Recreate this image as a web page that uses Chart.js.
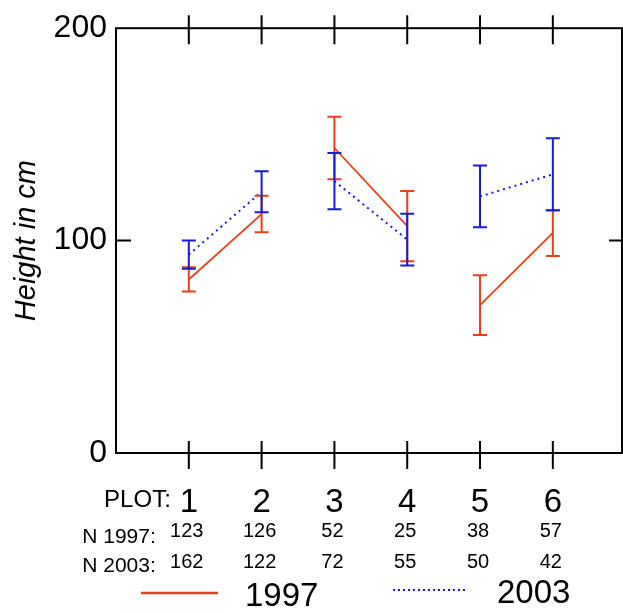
<!DOCTYPE html>
<html>
<head>
<meta charset="utf-8">
<script src="https://cdn.jsdelivr.net/npm/chart.js@4.4.1/dist/chart.umd.min.js"></script>
<style>
html, body { margin: 0; padding: 0; background: #fff; }
</style>
</head>
<body>
<canvas id="height-chart" width="623" height="613"></canvas>
<script>
var plots = [1, 2, 3, 4, 5, 6];
var mean1997 = [81.7, 112.5, 143.6, 106.8, 69.6, 103.6];
var err1997 = [5.7, 8.6, 14.7, 16.5, 14.1, 10.8];
var mean2003 = [93.4, 123, 128, 100.5, 120.8, 131.2];
var err2003 = [6.6, 9.6, 13.2, 12.2, 14.5, 17];
var n1997 = [123, 126, 52, 25, 38, 57];
var n2003 = [162, 122, 72, 55, 50, 42];
var yTicks = [0, 100, 200];

var red = '#e8401a';
var blue = '#1a1ad8';
var font = "'Liberation Sans', Arial, sans-serif";

function points(means){
    return plots.map(function(p, i){ return {x: p, y: means[i]}; });
}

// only 1-2, 3-4, 5-6 are joined
function pairColor(color){
    return function(c){ return c.p0DataIndex % 2 == 1 ? 'transparent' : color; };
}

function drawBars(chart, means, errs, color){
    var ctx = chart.ctx;
    var xs = chart.scales.x, ys = chart.scales.y;
    ctx.save();
    ctx.strokeStyle = color;
    ctx.lineWidth = 2;
    plots.forEach(function(p, i){
        var x = xs.getPixelForValue(p);
        var hi = ys.getPixelForValue(means[i] + errs[i]);
        var lo = ys.getPixelForValue(means[i] - errs[i]);
        ctx.beginPath();
        ctx.moveTo(x, hi); ctx.lineTo(x, lo);
        ctx.moveTo(x - 7, hi); ctx.lineTo(x + 7, hi);
        ctx.moveTo(x - 7, lo); ctx.lineTo(x + 7, lo);
        ctx.stroke();
    });
    ctx.restore();
}

var extras = {
    id: 'extras',
    afterDatasetsDraw: function(chart){
        drawBars(chart, mean1997, err1997, red);
        drawBars(chart, mean2003, err2003, blue);
    },
    afterDraw: function(chart){
        var ctx = chart.ctx;
        var a = chart.chartArea;
        var xs = chart.scales.x, ys = chart.scales.y;
        ctx.save();
        ctx.strokeStyle = '#000';
        ctx.lineWidth = 2;
        ctx.strokeRect(a.left, a.top, a.right - a.left, a.bottom - a.top);
        ctx.beginPath();
        plots.forEach(function(p){
            var x = xs.getPixelForValue(p);
            ctx.moveTo(x, a.bottom - 12); ctx.lineTo(x, a.bottom + 16);
            ctx.moveTo(x, a.top - 13); ctx.lineTo(x, a.top + 16);
        });
        var y100 = ys.getPixelForValue(100);
        ctx.moveTo(a.left, y100); ctx.lineTo(a.left + 15, y100);
        ctx.moveTo(a.right - 13, y100); ctx.lineTo(a.right, y100);
        ctx.stroke();

        // sample sizes under the axis
        var x1 = xs.getPixelForValue(plots[0]);
        ctx.fillStyle = '#000';
        ctx.textAlign = 'right';
        ctx.textBaseline = 'alphabetic';
        ctx.font = '24px ' + font;
        ctx.fillText('PLOT:', x1 - 18, a.bottom + 54);
        ctx.font = '21px ' + font;
        ctx.fillText('N 1997:', x1 - 33, a.bottom + 90);
        ctx.fillText('N 2003:', x1 - 33, a.bottom + 119);
        ctx.textAlign = 'center';
        ctx.font = '20px ' + font;
        plots.forEach(function(p, i){
            var x = xs.getPixelForValue(p) - 2;
            ctx.fillText(n1997[i], x, a.bottom + 84);
            ctx.fillText(n2003[i], x, a.bottom + 115);
        });

        // legend
        ctx.strokeStyle = red;
        ctx.lineWidth = 2.5;
        ctx.beginPath(); ctx.moveTo(141, 593); ctx.lineTo(218, 593); ctx.stroke();
        ctx.strokeStyle = blue;
        ctx.lineWidth = 2;
        ctx.setLineDash([2, 3]);
        ctx.beginPath(); ctx.moveTo(393, 590); ctx.lineTo(468, 590); ctx.stroke();
        ctx.setLineDash([]);
        ctx.textAlign = 'left';
        ctx.font = '33px ' + font;
        ctx.fillText('1997', 245, 606);
        ctx.fillText('2003', 497, 603);
        ctx.restore();
    }
};

var myChart = new Chart(document.getElementById('height-chart'), {
    type: 'line',
    data: {
        datasets: [
            {
                label: '1997',
                data: points(mean1997),
                borderColor: red,
                borderWidth: 1.8,
                pointRadius: 0,
                segment: { borderColor: pairColor(red) }
            },
            {
                label: '2003',
                data: points(mean2003),
                borderColor: blue,
                borderWidth: 2,
                borderDash: [2, 4],
                pointRadius: 0,
                segment: { borderColor: pairColor(blue) }
            }
        ]
    },
    options: {
        responsive: false,
        devicePixelRatio: 1,
        animation: false,
        layout: { padding: { top: 27, right: 1, left: 0, bottom: 0 } },
        plugins: {
            legend: { display: false },
            tooltip: { enabled: false }
        },
        scales: {
            x: {
                type: 'linear',
                min: 0,
                max: 6.95,
                afterBuildTicks: function(s){ s.ticks = plots.map(function(v){ return {value: v}; }); },
                afterFit: function(s){ s.height = 160; },
                grid: { display: false, drawTicks: false },
                border: { display: false },
                ticks: {
                    color: '#000',
                    font: { family: font, size: 33 },
                    padding: 30,
                    maxRotation: 0,
                    autoSkip: false
                }
            },
            y: {
                min: 0,
                max: 200,
                afterBuildTicks: function(s){ s.ticks = yTicks.map(function(v){ return {value: v}; }); },
                afterFit: function(s){ s.width = 116; },
                grid: { display: false, drawTicks: false },
                border: { display: false },
                ticks: {
                    color: '#000',
                    font: { family: font, size: 32 },
                    padding: 9
                },
                title: {
                    display: true,
                    text: 'Height in cm',
                    color: '#000',
                    font: { family: font, size: 29, style: 'italic' },
                    padding: { top: 10, bottom: 0 }
                }
            }
        }
    },
    plugins: [extras]
});
</script>
</body>
</html>
